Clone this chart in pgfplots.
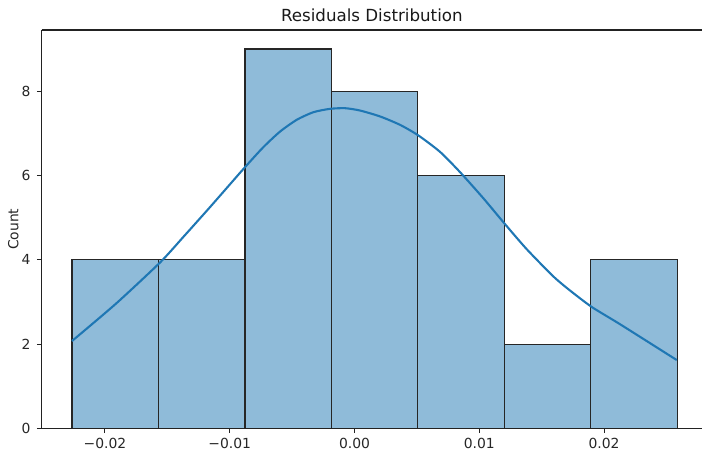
\documentclass[border=0pt]{standalone}
\usepackage{pgfplots}
\pgfplotsset{compat=1.18}
\usepackage{fontspec}
\setmainfont{DejaVu Sans}

\definecolor{histfill}{HTML}{8FBBD9}
\definecolor{kdeblue}{HTML}{1F77B4}
\definecolor{spine}{HTML}{222222}

% bin edges and counts; the last row closes the final interval
\pgfplotstableread{
x        n
-0.02264 4
-0.01571 4
-0.00878 9
-0.00185 8
0.00508  6
0.01201  2
0.01894  4
0.02587  4
}\bins

% kernel density estimate, scaled to counts
\pgfplotstableread{
x        d
-0.02264 2.072
-0.01911 2.960
-0.01558 3.936
-0.01372 4.540
-0.01159 5.245
-0.00998 5.790
-0.00878 6.195
-0.00731 6.670
-0.00597 7.040
-0.00463 7.320
-0.00330 7.500
-0.00196 7.580
-0.00076 7.595
0.00044  7.540
0.00204  7.400
0.00365  7.200
0.00511  6.950
0.00685  6.560
0.00845  6.080
0.01032  5.460
0.01206  4.845
0.01380  4.250
0.01593  3.605
0.01727  3.270
0.01901  2.880
0.02128  2.470
0.02582  1.621
}\kde

\begin{document}
\begin{tikzpicture}
\begin{axis}[
  scale only axis,
  width=475.4pt, height=286.8pt,
  xmin=-0.02507, xmax=0.027845,
  ymin=0, ymax=9.45,
  axis on top,
  separate axis lines,
  axis x line*=box,
  axis y line*=left,
  axis line style={spine, line width=0.8pt},
  xtick={-0.02,-0.01,0,0.01,0.02},
  xticklabels={−0.02,−0.01,0.00,0.01,0.02},
  ytick={0,2,4,6,8},
  yticklabels={0,2,4,6,8},
  xtick pos=bottom, ytick pos=left,
  tick align=outside,
  major tick length=3.5pt,
  tick style={spine, line width=0.8pt},
  tick label style={font=\fontsize{10}{12}\selectfont, text=black!85},
  yticklabel style={xshift=-1pt},
  clip=false,
]
\addplot[ybar interval, fill=histfill, draw=black!85, line width=0.8pt]
  table[x=x, y=n] {\bins};

\addplot[kdeblue, line width=1.5pt, smooth, tension=0.4]
  table[x=x, y=d] {\kde};

\node[anchor=base, font=\fontsize{12}{14}\selectfont, text=black!90]
  at ([yshift=6pt]rel axis cs:0.5,1) {Residuals Distribution};
\node[rotate=90, anchor=center, font=\fontsize{10}{12}\selectfont, text=black!85]
  at ([xshift=-20.5pt]rel axis cs:0,0.5) {Count};

\coordinate (bl) at (rel axis cs:0,0);
\coordinate (tr) at (rel axis cs:1,1);
\end{axis}
\pgfresetboundingbox
\path ([shift={(-30pt,-17.1pt)}]bl) rectangle ([shift={(0pt,21.6pt)}]tr);
\end{tikzpicture}
\end{document}
